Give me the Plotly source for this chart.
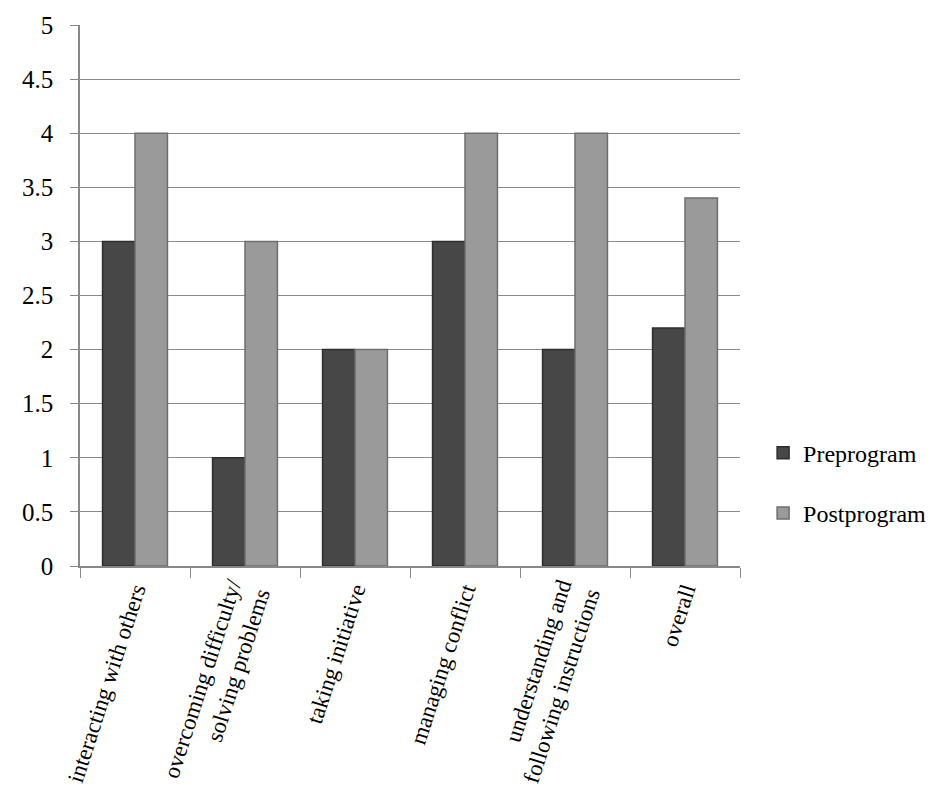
import plotly.graph_objects as go

categories = [
    "interacting with others",
    "overcoming difficulty/<br>solving problems",
    "taking initiative",
    "managing conflict",
    "understanding and<br>following instructions",
    "overall",
]
preprogram = [3, 1, 2, 3, 2, 2.2]
postprogram = [4, 3, 2, 4, 4, 3.4]
y_ticks = [0, 0.5, 1, 1.5, 2, 2.5, 3, 3.5, 4, 4.5, 5]
y_tick_labels = ["0", "0.5", "1", "1.5", "2", "2.5", "3", "3.5", "4", "4.5", "5"]

font_family = "Liberation Serif"

fig = go.Figure()
fig.add_trace(go.Bar(
    name="Preprogram", x=categories, y=preprogram,
    marker=dict(color="#474747", line=dict(color="#2e2e2e", width=1.5)),
    legendgroup="a",
))
fig.add_trace(go.Bar(
    name="Postprogram", x=categories, y=postprogram,
    marker=dict(color="#9a9a9a", line=dict(color="#6e6e6e", width=1.5)),
    legendgroup="b",
))

fig.update_layout(
    width=943, height=806,
    margin=dict(l=80, r=203, t=22, b=240),
    paper_bgcolor="white", plot_bgcolor="white",
    barmode="group", bargap=0.41, bargroupgap=0,
    font=dict(family=font_family, size=24, color="black"),
    showlegend=True,
    legend=dict(
        x=1.035, y=0.153, xanchor="left", yanchor="middle",
        font=dict(family=font_family, size=24, color="black"),
        traceorder="grouped", tracegroupgap=26,
        itemwidth=30,
    ),
)
fig.update_xaxes(
    tickangle=-72,
    ticks="outside", tickson="boundaries", ticklen=10, tickcolor="#888888",
    showline=True, linecolor="#888888", linewidth=1.5,
    tickfont=dict(family=font_family, size=23),
    showgrid=False,
)
fig.update_yaxes(
    range=[0, 5], tickvals=y_ticks, ticktext=y_tick_labels,
    ticks="outside", ticklen=8, tickcolor="#888888",
    showline=True, linecolor="#888888", linewidth=1.5,
    showgrid=True, gridcolor="#8a8a8a", gridwidth=1.2,
    zeroline=False,
    tickfont=dict(family=font_family, size=25),
    ticklabelstandoff=12,
)

fig.write_html("out.html")
